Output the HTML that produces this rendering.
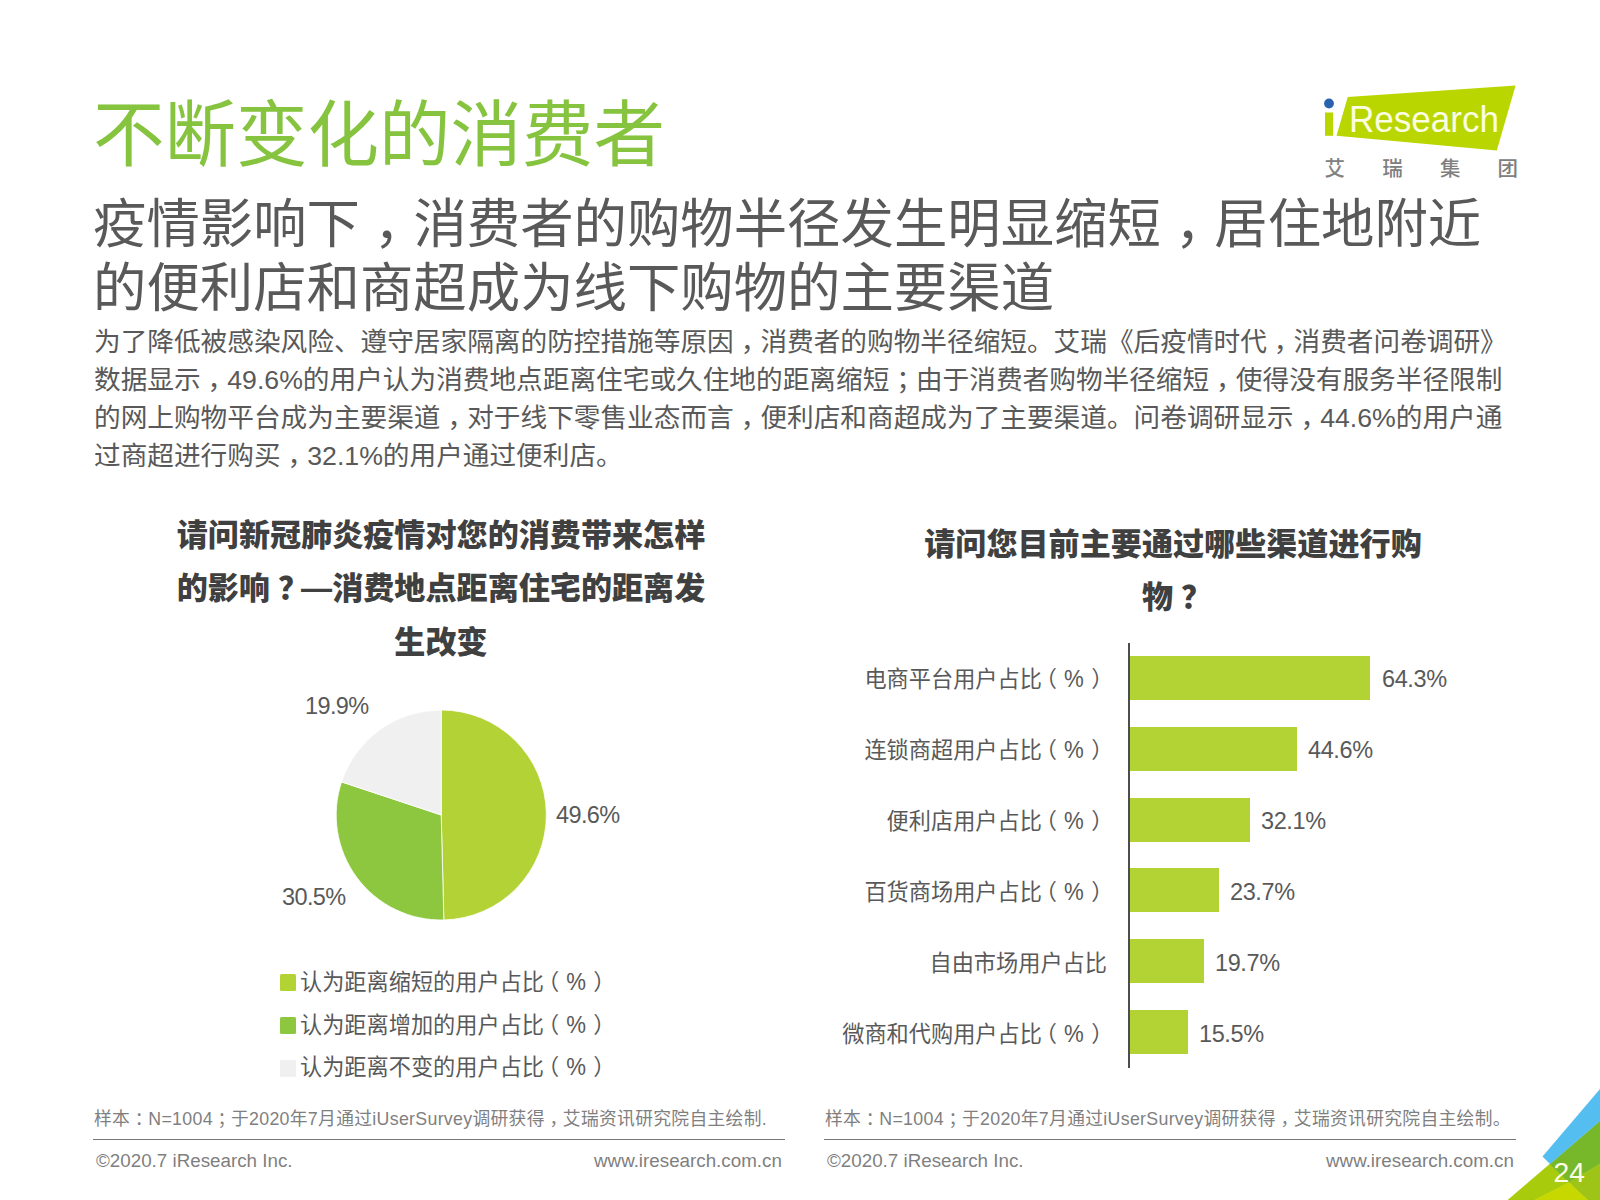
<!DOCTYPE html>
<html lang="zh-CN">
<head>
<meta charset="utf-8">
<title>不断变化的消费者</title>
<style>
*{margin:0;padding:0;box-sizing:border-box}
html,body{width:1600px;height:1200px;background:#fff;overflow:hidden}
body{text-spacing-trim:space-all;position:relative;font-family:"Liberation Sans","Noto Sans CJK SC",sans-serif;color:#595959}
.a{position:absolute;white-space:nowrap}
.p{position:relative;left:.26em}
.lp{position:relative;left:-.32em}
.rp{position:relative;left:.33em}
.pc{display:inline-block;transform:scaleY(1.11);transform-origin:50% 72%}
#title{left:93px;top:90px;font-size:71.5px;line-height:90px;color:#86c440}
#sub{left:93px;top:192.5px;font-size:53.4px;line-height:64.5px;color:#595959}
#body{left:94px;top:322.5px;font-size:26.67px;line-height:38.3px;color:#595959}
.ct{font-weight:900;color:#404040;font-size:31.1px;line-height:53.4px;text-align:center}
#ct1{left:141px;top:508.8px;width:600px}
#ct2{left:873px;top:518px;width:600px}
.pl{font-size:23.5px;letter-spacing:-0.6px;color:#595959;line-height:24px}
.lg{font-size:22.2px;color:#595959;line-height:30px}
.sw{position:absolute;width:16px;height:16.5px;border-radius:1.5px}
.bl{font-size:22.2px;color:#595959;line-height:30px;text-align:right;width:300px}
.bv{font-size:23.5px;letter-spacing:-0.4px;color:#595959;line-height:30px}
.bar{position:absolute;background:#b3d234;height:44px;left:1130px}
.fn{font-size:17.8px;letter-spacing:0.3px;color:#7f7f7f;line-height:24px}
.fc{font-size:18.8px;color:#7f7f7f;line-height:24px}
.hr{position:absolute;height:1.5px;background:#777}
</style>
</head>
<body>

<!-- logo -->
<svg class="a" style="left:0;top:0" width="1600" height="200" viewBox="0 0 1600 200">
  <circle cx="1329" cy="103.5" r="4.9" fill="#2a62b0"/>
  <rect x="1325" y="112.5" width="8.1" height="23.3" fill="#bad600"/>
  <polygon points="1347.75,97 1515.6,85.6 1496.8,150.4 1336.5,135.75" fill="#bad600"/>
  <text x="1349" y="132" font-family="Liberation Sans, sans-serif" font-size="37" fill="#fbfde0" textLength="150" lengthAdjust="spacingAndGlyphs">Research</text>
</svg>
<div class="a" style="left:1324.5px;top:155.5px;font-size:20.5px;font-weight:500;line-height:26px;color:#808080;letter-spacing:37.2px">艾瑞集团</div>

<div id="title" class="a">不断变化的消费者</div>
<div id="sub" class="a">疫情影响下<span class="p">，</span>消费者的购物半径发生明显缩短<span class="p">，</span>居住地附近<br>的便利店和商超成为线下购物的主要渠道</div>
<div id="body" class="a">为了降低被感染风险、遵守居家隔离的防控措施等原因<span class="p">，</span>消费者的购物半径缩短。艾瑞《后疫情时代<span class="p">，</span>消费者问卷调研》<br>数据显示<span class="p">，</span>49.6%的用户认为消费地点距离住宅或久住地的距离缩短<span class="p">；</span>由于消费者购物半径缩短<span class="p">，</span>使得没有服务半径限制<br>的网上购物平台成为主要渠道<span class="p">，</span>对于线下零售业态而言<span class="p">，</span>便利店和商超成为了主要渠道。问卷调研显示<span class="p">，</span>44.6%的用户通<br>过商超进行购买<span class="p">，</span>32.1%的用户通过便利店。</div>

<div id="ct1" class="a ct">请问新冠肺炎疫情对您的消费带来怎样<br>的影响<span class="p">？</span>—消费地点距离住宅的距离发<br>生改变</div>
<div id="ct2" class="a ct">请问您目前主要通过哪些渠道进行购<br>物<span class="p">？</span></div>

<!-- pie -->
<svg class="a" style="left:0;top:0" width="800" height="1100" viewBox="0 0 800 1100">
  <g stroke="#fff" stroke-width="0.8" stroke-linejoin="round">
  <path d="M441.2,815 L441.2,710 A105,105 0 0 1 443.84,919.97 Z" fill="#b2d235"/>
  <path d="M441.2,815 L443.84,919.97 A105,105 0 0 1 341.54,781.92 Z" fill="#8dc63f"/>
  <path d="M441.2,815 L341.54,781.92 A105,105 0 0 1 441.2,710 Z" fill="#f0f0f0"/>
  </g>
</svg>
<div class="a pl" style="left:305px;top:694px">19.9%</div>
<div class="a pl" style="left:556px;top:803px">49.6%</div>
<div class="a pl" style="left:282px;top:885px">30.5%</div>

<div class="sw" style="left:280px;top:974px;background:#b3d234"></div>
<div class="sw" style="left:280px;top:1017px;background:#8dc63f"></div>
<div class="sw" style="left:280px;top:1060px;background:#f0f0f0"></div>
<div class="a lg" style="left:300px;top:968px">认为距离缩短的用户占比<span class="lp">（</span><span class="pc">%</span><span class="rp">）</span></div>
<div class="a lg" style="left:300px;top:1011px">认为距离增加的用户占比<span class="lp">（</span><span class="pc">%</span><span class="rp">）</span></div>
<div class="a lg" style="left:300px;top:1053px">认为距离不变的用户占比<span class="lp">（</span><span class="pc">%</span><span class="rp">）</span></div>

<!-- bars -->
<div class="a" style="left:1128px;top:643px;width:2px;height:425px;background:#4d4d4d"></div>
<div class="bar" style="top:656px;width:240px"></div>
<div class="bar" style="top:726.8px;width:166.5px"></div>
<div class="bar" style="top:797.6px;width:120px"></div>
<div class="bar" style="top:868.4px;width:88.5px"></div>
<div class="bar" style="top:939.2px;width:73.5px"></div>
<div class="bar" style="top:1010px;width:58px"></div>
<div class="a bl" style="left:806px;top:664.5px">电商平台用户占比<span class="lp">（</span><span class="pc">%</span><span class="rp">）</span></div>
<div class="a bl" style="left:806px;top:735.5px">连锁商超用户占比<span class="lp">（</span><span class="pc">%</span><span class="rp">）</span></div>
<div class="a bl" style="left:806px;top:806.5px">便利店用户占比<span class="lp">（</span><span class="pc">%</span><span class="rp">）</span></div>
<div class="a bl" style="left:806px;top:877.5px">百货商场用户占比<span class="lp">（</span><span class="pc">%</span><span class="rp">）</span></div>
<div class="a bl" style="left:807px;top:948.5px">自由市场用户占比</div>
<div class="a bl" style="left:806px;top:1019.5px">微商和代购用户占比<span class="lp">（</span><span class="pc">%</span><span class="rp">）</span></div>
<div class="a bv" style="left:1382px;top:664px">64.3%</div>
<div class="a bv" style="left:1308px;top:735px">44.6%</div>
<div class="a bv" style="left:1261px;top:806px">32.1%</div>
<div class="a bv" style="left:1230px;top:877px">23.7%</div>
<div class="a bv" style="left:1215px;top:948px">19.7%</div>
<div class="a bv" style="left:1199px;top:1019px">15.5%</div>

<!-- footer -->
<div class="a fn" style="left:94px;top:1107px">样本<span class="p">：</span>N=1004<span class="p">；</span>于2020年7月通过iUserSurvey调研获得<span class="p">，</span>艾瑞资讯研究院自主绘制.</div>
<div class="hr" style="left:93px;top:1138.5px;width:692px"></div>
<div class="a fc" style="left:96px;top:1148.8px">©2020.7 iResearch Inc.</div>
<div class="a fc" style="left:594px;top:1148.8px">www.iresearch.com.cn</div>

<div class="a fn" style="left:825px;top:1107px">样本<span class="p">：</span>N=1004<span class="p">；</span>于2020年7月通过iUserSurvey调研获得<span class="p">，</span>艾瑞资讯研究院自主绘制。</div>
<div class="hr" style="left:824px;top:1138.5px;width:692px"></div>
<div class="a fc" style="left:827px;top:1148.8px">©2020.7 iResearch Inc.</div>
<div class="a fc" style="left:1326px;top:1148.8px">www.iresearch.com.cn</div>

<!-- corner -->
<svg class="a" style="left:1500px;top:1080px" width="100" height="120" viewBox="1500 1080 100 120">
  <polygon points="1508,1200 1550,1164 1569,1182.5 1535,1200" fill="#a8cb0b" stroke="#a8cb0b" stroke-width="0.6"/>
  <polygon points="1550,1164 1600,1121 1600,1164 1569,1182.5" fill="#77b82a" stroke="#77b82a" stroke-width="0.6"/>
  <polygon points="1569,1182.5 1600,1164 1600,1200 1587.5,1200" fill="#9dc416" stroke="#9dc416" stroke-width="0.6"/>
  <polygon points="1535,1200 1569,1182.5 1587.5,1200" fill="#c6d800" stroke="#c6d800" stroke-width="0.6"/>
  <polygon points="1542.5,1156.5 1600,1089 1600,1121 1550,1164" fill="#55bef0"/>
  <text x="1553.5" y="1182.3" font-family="Liberation Sans, sans-serif" font-size="28.3" fill="#fdfde6">24</text>
</svg>

</body>
</html>
